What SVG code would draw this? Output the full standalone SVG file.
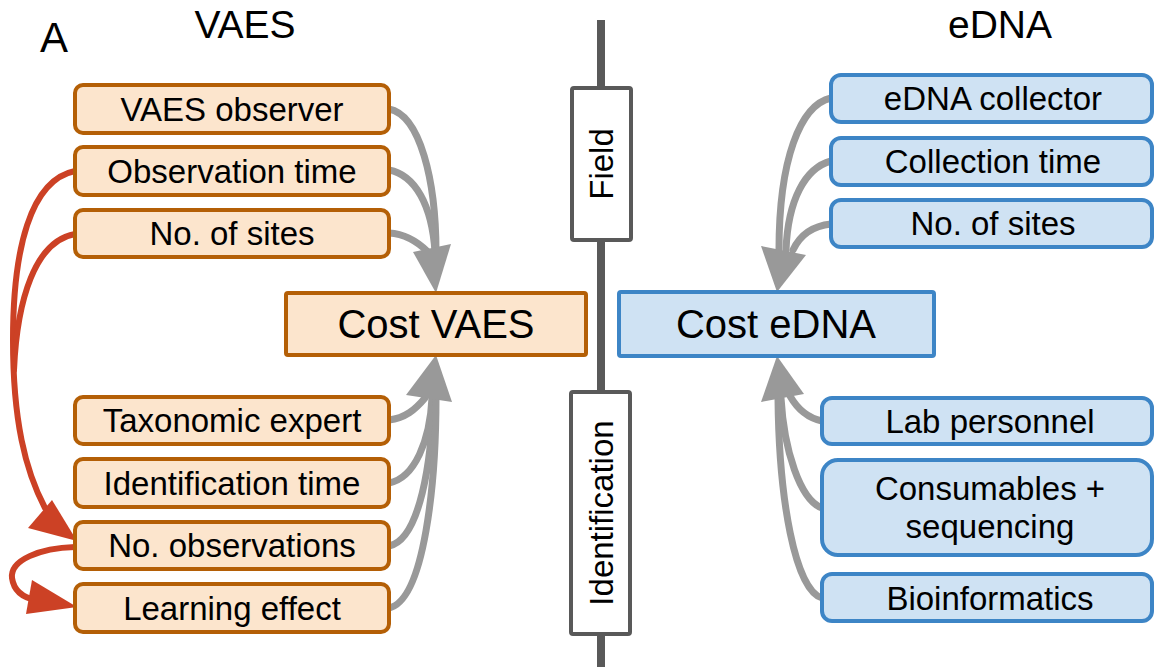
<svg xmlns="http://www.w3.org/2000/svg" width="1156" height="667" viewBox="0 0 1156 667">
  <style>
    text { font-family: "Liberation Sans", Arial, sans-serif; fill: #000; }
    .title { font-size: 39px; text-anchor: middle; }
    .lbl { font-size: 33px; text-anchor: middle; }
    .big { font-size: 40px; text-anchor: middle; }
    .vaes { fill: #fce5cd; stroke: #b45f06; stroke-width: 4; }
    .edna { fill: #cfe2f3; stroke: #3d85c6; stroke-width: 4; }
    .phase { fill: #ffffff; stroke: #595959; stroke-width: 4; }
    .grey { fill: none; stroke: #999999; stroke-width: 7; stroke-linecap: round; }
    .greyhead { fill: #999999; }
    .red { fill: none; stroke: #cc4125; stroke-width: 6; stroke-linecap: round; }
    .redhead { fill: #cc4125; }
  </style>

  <!-- panel letter and column headings -->
  <text x="40" y="52" font-size="42px">A</text>
  <text class="title" x="245" y="38">VAES</text>
  <text class="title" x="1000" y="38">eDNA</text>

  <!-- central timeline divider -->
  <g id="divider">
    <line x1="601" y1="20" x2="601" y2="667" stroke="#595959" stroke-width="8"/>
  </g>

  <!-- connectors -->
  <g id="connectors">
    <!-- VAES field inputs -->
    <path class="grey" d="M389,109 C420,115 436,180 436,252"/>
    <path class="grey" d="M389,170 C415,175 432,205 435,252"/>
    <path class="grey" d="M389,233 C405,234 418,242 428,252"/>
    <polygon class="greyhead" points="413,252 451,244 436,293"/>

    <!-- VAES identification inputs -->
    <path class="grey" d="M389,420 C405,418 415,410 425,398"/>
    <path class="grey" d="M389,483 C415,478 430,440 432,398"/>
    <path class="grey" d="M389,546 C420,540 432,460 433,398"/>
    <path class="grey" d="M389,608 C425,600 436,480 436,398"/>
    <polygon class="greyhead" points="406,395 452,402 436,355"/>

    <!-- eDNA field inputs -->
    <path class="grey" d="M831,98 C800,105 779,160 779,250"/>
    <path class="grey" d="M831,161 C805,168 788,200 786,250"/>
    <path class="grey" d="M831,224 C812,226 800,235 793,250"/>
    <polygon class="greyhead" points="761,246 806,255 777,292"/>

    <!-- eDNA identification inputs -->
    <path class="grey" d="M822,421 C808,418 798,410 790,396"/>
    <path class="grey" d="M822,508 C800,500 784,450 781,398"/>
    <path class="grey" d="M822,598 C795,590 779,500 778,398"/>
    <polygon class="greyhead" points="761,402 804,394 777,356"/>

    <!-- dependencies between VAES drivers -->
    <path class="red" d="M75,171 C30,180 13,250 13,340 C13,420 25,470 45,508"/>
    <path class="red" d="M75,234 C35,241 17,300 14,370"/>
    <polygon class="redhead" points="28,528 52,500 77,541"/>
    <path class="red" d="M75,547 C40,548 10,560 12,578 C14,592 25,598 36,600"/>
    <polygon class="redhead" points="26,614 32,580 77,607"/>
  </g>

  <!-- phase labels on the divider -->
  <g id="phase-field">
    <rect class="phase" x="572" y="88" width="59" height="152" rx="2"/>
    <text class="lbl" font-size="31px" transform="translate(612.5,164) rotate(-90)">Field</text>
  </g>
  <g id="phase-identification">
    <rect class="phase" x="571" y="392" width="59" height="242" rx="2"/>
    <text class="lbl" font-size="32px" transform="translate(612.5,513) rotate(-90)">Identification</text>
  </g>

  <!-- VAES cost drivers -->
  <g id="vaes-observer">
    <rect class="vaes" x="75" y="85" width="314" height="48" rx="8"/>
    <text class="lbl" x="232" y="121">VAES observer</text>
  </g>
  <g id="vaes-observation-time">
    <rect class="vaes" x="75" y="147" width="314" height="48" rx="8"/>
    <text class="lbl" x="232" y="183">Observation time</text>
  </g>
  <g id="vaes-sites">
    <rect class="vaes" x="75" y="210" width="314" height="47" rx="8"/>
    <text class="lbl" x="232" y="245">No. of sites</text>
  </g>
  <g id="vaes-cost">
    <rect class="vaes" x="286" y="293" width="300" height="62" rx="2"/>
    <text class="big" x="436" y="338">Cost VAES</text>
  </g>
  <g id="vaes-taxonomic-expert">
    <rect class="vaes" x="75" y="397" width="314" height="47" rx="8"/>
    <text class="lbl" x="232" y="432">Taxonomic expert</text>
  </g>
  <g id="vaes-identification-time">
    <rect class="vaes" x="75" y="459" width="314" height="48" rx="8"/>
    <text class="lbl" x="232" y="495">Identification time</text>
  </g>
  <g id="vaes-observations">
    <rect class="vaes" x="75" y="522" width="314" height="47" rx="8"/>
    <text class="lbl" x="232" y="557">No. observations</text>
  </g>
  <g id="vaes-learning-effect">
    <rect class="vaes" x="75" y="584" width="314" height="48" rx="8"/>
    <text class="lbl" x="232" y="620">Learning effect</text>
  </g>

  <!-- eDNA cost drivers -->
  <g id="edna-collector">
    <rect class="edna" x="831" y="75" width="321" height="47" rx="10"/>
    <text class="lbl" x="993" y="110">eDNA collector</text>
  </g>
  <g id="edna-collection-time">
    <rect class="edna" x="831" y="138" width="321" height="47" rx="10"/>
    <text class="lbl" x="993" y="173">Collection time</text>
  </g>
  <g id="edna-sites">
    <rect class="edna" x="831" y="200" width="321" height="47" rx="10"/>
    <text class="lbl" x="993" y="235">No. of sites</text>
  </g>
  <g id="edna-cost">
    <rect class="edna" x="619" y="292" width="315" height="64" rx="2"/>
    <text class="big" x="776" y="338">Cost eDNA</text>
  </g>
  <g id="edna-lab-personnel">
    <rect class="edna" x="822" y="398" width="330" height="46" rx="10"/>
    <text class="lbl" x="990" y="433">Lab personnel</text>
  </g>
  <g id="edna-consumables">
    <rect class="edna" x="822" y="460" width="330" height="95" rx="16"/>
    <text class="lbl" x="990" y="500">Consumables +</text>
    <text class="lbl" x="990" y="538">sequencing</text>
  </g>
  <g id="edna-bioinformatics">
    <rect class="edna" x="822" y="574" width="330" height="47" rx="10"/>
    <text class="lbl" x="990" y="610">Bioinformatics</text>
  </g>
</svg>
